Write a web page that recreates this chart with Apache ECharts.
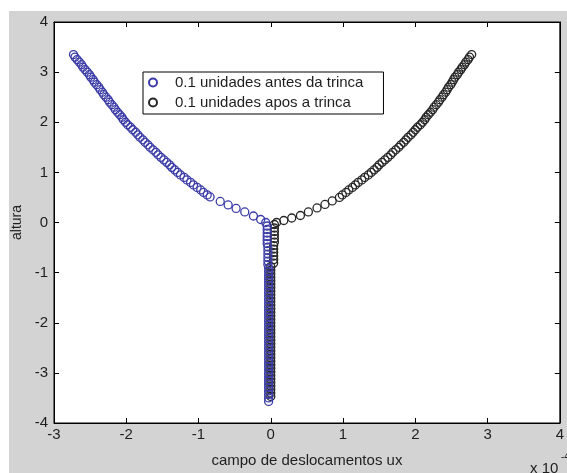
<!DOCTYPE html>
<html>
<head>
<meta charset="utf-8">
<script src="https://cdn.jsdelivr.net/npm/echarts@6/dist/echarts.min.js"></script>
<style>
  html, body { margin: 0; padding: 0; background: #fff; }
  #chart { width: 567px; height: 473px; }
</style>
</head>
<body>
<div id="chart"></div>
<script>
// deslocamento ux (x 10^-4) e altura
var antesCurva = [
    [-2.73, 3.35], [-2.71, 3.30], [-2.68, 3.25], [-2.65, 3.20], [-2.62, 3.15], [-2.60, 3.10], [-2.57, 3.05], [-2.54, 3.00],
    [-2.51, 2.95], [-2.49, 2.90], [-2.46, 2.85], [-2.44, 2.80], [-2.41, 2.75], [-2.38, 2.70], [-2.36, 2.65], [-2.33, 2.60],
    [-2.31, 2.55], [-2.28, 2.50], [-2.25, 2.45], [-2.23, 2.40], [-2.20, 2.35], [-2.17, 2.30], [-2.15, 2.25], [-2.12, 2.20],
    [-2.09, 2.15], [-2.06, 2.10], [-2.04, 2.05], [-2.01, 2.00], [-1.98, 1.95], [-1.94, 1.90], [-1.91, 1.85], [-1.87, 1.80],
    [-1.84, 1.75], [-1.81, 1.70], [-1.77, 1.65], [-1.74, 1.60], [-1.70, 1.55], [-1.67, 1.50], [-1.63, 1.45], [-1.59, 1.40],
    [-1.56, 1.35], [-1.52, 1.30], [-1.48, 1.25], [-1.44, 1.20], [-1.40, 1.15], [-1.37, 1.10], [-1.33, 1.05], [-1.29, 1.00],
    [-1.25, 0.95], [-1.20, 0.90], [-1.16, 0.85], [-1.11, 0.80], [-1.07, 0.75], [-1.02, 0.70], [-0.97, 0.65], [-0.93, 0.60],
    [-0.88, 0.55], [-0.84, 0.51],
    [-0.70, 0.42], [-0.59, 0.35], [-0.48, 0.28], [-0.36, 0.21], [-0.24, 0.13], [-0.14, 0.06], [-0.07, 0.00]
];
// coluna vertical sob a trinca (x, altura)
var antesColuna = [
    [-0.05, -0.07], [-0.05, -0.14], [-0.05, -0.21], [-0.05, -0.28], [-0.05, -0.35], [-0.05, -0.42],
    [-0.04, -0.49], [-0.04, -0.56], [-0.04, -0.63], [-0.04, -0.70], [-0.04, -0.77], [-0.04, -0.84],
    [-0.03, -0.91], [-0.03, -0.98], [-0.03, -1.05], [-0.03, -1.12], [-0.03, -1.19], [-0.03, -1.26],
    [-0.03, -1.33], [-0.03, -1.40], [-0.03, -1.47], [-0.03, -1.54], [-0.03, -1.61], [-0.03, -1.68],
    [-0.03, -1.75], [-0.03, -1.82], [-0.03, -1.89], [-0.03, -1.96], [-0.03, -2.03], [-0.03, -2.10],
    [-0.03, -2.17], [-0.03, -2.24], [-0.03, -2.31], [-0.03, -2.38], [-0.03, -2.45], [-0.03, -2.52],
    [-0.03, -2.59], [-0.03, -2.66], [-0.03, -2.73], [-0.03, -2.80], [-0.03, -2.87], [-0.03, -2.94],
    [-0.03, -3.01], [-0.03, -3.08], [-0.03, -3.15], [-0.03, -3.22], [-0.03, -3.29], [-0.03, -3.36],
    [-0.03, -3.43], [-0.03, -3.50], [-0.03, -3.57]
];

var aposCurva = [
    [2.78, 3.35], [2.75, 3.30], [2.73, 3.25], [2.70, 3.20], [2.68, 3.15], [2.65, 3.10], [2.63, 3.05], [2.60, 3.00],
    [2.58, 2.95], [2.55, 2.90], [2.53, 2.85], [2.51, 2.80], [2.49, 2.75], [2.46, 2.70], [2.44, 2.65], [2.42, 2.60],
    [2.39, 2.55], [2.37, 2.50], [2.34, 2.45], [2.32, 2.40], [2.29, 2.35], [2.26, 2.30], [2.24, 2.25], [2.21, 2.20],
    [2.18, 2.15], [2.15, 2.10], [2.13, 2.05], [2.10, 2.00], [2.07, 1.95], [2.03, 1.90], [2.00, 1.85], [1.97, 1.80],
    [1.94, 1.75], [1.90, 1.70], [1.87, 1.65], [1.84, 1.60], [1.80, 1.55], [1.77, 1.50], [1.73, 1.45], [1.69, 1.40],
    [1.66, 1.35], [1.62, 1.30], [1.58, 1.25], [1.54, 1.20], [1.50, 1.15], [1.47, 1.10], [1.43, 1.05], [1.39, 1.00],
    [1.35, 0.95], [1.30, 0.90], [1.26, 0.85], [1.21, 0.80], [1.17, 0.75], [1.13, 0.70], [1.08, 0.65], [1.04, 0.60],
    [0.99, 0.55], [0.95, 0.50],
    [0.85, 0.43], [0.75, 0.36], [0.64, 0.29], [0.52, 0.21], [0.41, 0.14], [0.29, 0.09], [0.18, 0.04], [0.08, 0.00]
];
var aposColuna = [
    [0.05, -0.04], [0.05, -0.11], [0.05, -0.18], [0.05, -0.25], [0.05, -0.32], [0.05, -0.39],
    [0.04, -0.46], [0.04, -0.53], [0.04, -0.60], [0.04, -0.67], [0.04, -0.74], [0.04, -0.81],
    [0.00, -0.88], [0.00, -0.95], [0.00, -1.02], [0.00, -1.09], [0.00, -1.16], [0.00, -1.23],
    [0.00, -1.30], [0.00, -1.37], [0.00, -1.44], [0.00, -1.51], [0.00, -1.58], [0.00, -1.65],
    [0.00, -1.72], [0.00, -1.79], [0.00, -1.86], [0.00, -1.93], [0.00, -2.00], [0.00, -2.07],
    [0.00, -2.14], [0.00, -2.21], [0.00, -2.28], [0.00, -2.35], [0.00, -2.42], [0.00, -2.49],
    [0.00, -2.56], [0.00, -2.63], [0.00, -2.70], [0.00, -2.77], [0.00, -2.84], [0.00, -2.91],
    [0.00, -2.98], [0.00, -3.05], [0.00, -3.12], [0.00, -3.19], [0.00, -3.26], [0.00, -3.33],
    [0.00, -3.40], [0.00, -3.47]
];

var xTicks = [-3, 4, 1];
var yTicks = [-4, 4, 1];
var nomes = ['0.1 unidades antes da trinca', '0.1 unidades apos a trinca'];

var AZUL = '#3a3aa6';
var PRETO = '#262626';
var TEXTO = '#1e1e1e';
var fonte = 'Liberation Sans, Arial, sans-serif';

var chart = echarts.init(document.getElementById('chart'));

function eixo(extra) {
    var base = {
        type: 'value',
        min: 0, max: 0, interval: 1,
        splitLine: {show: false},
        axisLine: {show: true, onZero: false, lineStyle: {color: '#000', width: 1}},
        axisTick: {show: true, inside: true, length: 5, lineStyle: {color: '#000'}},
        axisLabel: {show: false}
    };
    return Object.assign(base, extra);
}

chart.setOption({
    backgroundColor: '#fff',
    animation: false,
    graphic: [
        {type: 'rect', shape: {x: 9, y: 11, width: 560, height: 470}, style: {fill: '#d3d3d3'}, z: -10},
        {type: 'text', left: 530, top: 461, style: {text: 'x 10', font: '15px ' + fonte, fill: TEXTO}},
        {type: 'text', left: 561, top: 452, style: {text: '-4', font: '10px ' + fonte, fill: TEXTO}}
    ],
    grid: {
        left: 54, top: 22, width: 515, height: 404,
        show: true, backgroundColor: '#fff', borderColor: '#000', borderWidth: 1
    },
    legend: {
        orient: 'vertical',
        left: 143, top: 72,
        padding: [3, 20, 4, 5],
        itemGap: 5,
        itemWidth: 34, itemHeight: 8,
        backgroundColor: '#fff',
        borderColor: '#000', borderWidth: 1, borderRadius: 0,
        textStyle: {fontFamily: fonte, fontSize: 15, color: TEXTO},
        data: nomes
    },
    xAxis: [
        eixo({
            min: xTicks[0], max: xTicks[1], interval: xTicks[2], position: 'bottom',
            axisLabel: {show: true, fontFamily: fonte, fontSize: 15, color: TEXTO, margin: 4,
                showMinLabel: true, showMaxLabel: true},
            name: 'campo de deslocamentos ux', nameLocation: 'middle', nameGap: 30,
            nameTextStyle: {fontFamily: fonte, fontSize: 15, color: TEXTO}
        }),
        eixo({min: xTicks[0], max: xTicks[1], interval: xTicks[2], position: 'top'})
    ],
    yAxis: [
        eixo({
            min: yTicks[0], max: yTicks[1], interval: yTicks[2], position: 'left',
            axisLabel: {show: true, fontFamily: fonte, fontSize: 15, color: TEXTO, margin: 6},
            name: 'altura', nameLocation: 'middle', nameGap: 30, nameRotate: 90,
            nameTextStyle: {fontFamily: fonte, fontSize: 14, color: TEXTO}
        }),
        eixo({min: yTicks[0], max: yTicks[1], interval: yTicks[2], position: 'right'})
    ],
    series: [
        {
            name: nomes[0],
            type: 'scatter',
            symbol: 'circle',
            symbolSize: 8,
            z: 3,
            itemStyle: {color: 'rgba(255,255,255,0)', borderColor: AZUL, borderWidth: 1.3, opacity: 1},
            data: antesCurva.concat(antesColuna)
        },
        {
            name: nomes[1],
            type: 'scatter',
            symbol: 'circle',
            symbolSize: 8,
            z: 2,
            itemStyle: {color: 'rgba(255,255,255,0)', borderColor: PRETO, borderWidth: 1.3, opacity: 1},
            data: aposCurva.concat(aposColuna)
        }
    ]
});

window.onresize = function () {
    chart.resize();
};
</script>
</body>
</html>
